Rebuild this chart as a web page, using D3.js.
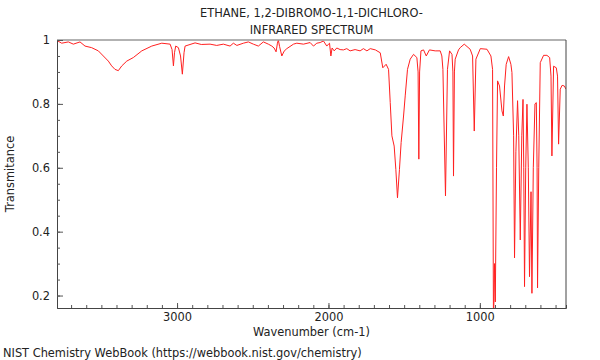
<!DOCTYPE html>
<html>
<head>
<meta charset="utf-8">
<script src="https://cdn.jsdelivr.net/npm/d3@7"></script>
<style>
  body { margin: 0; background: #fff; }
  svg text { font-family: "DejaVu Sans", sans-serif; fill: #222; }
</style>
</head>
<body>
<svg id="chart" width="600" height="360"></svg>
<script>
var titleLines = ["ETHANE, 1,2-DIBROMO-1,1-DICHLORO-", "INFRARED SPECTRUM"];
var xLabel = "Wavenumber (cm-1)",
    yLabel = "Transmitance",
    footer = "NIST Chemistry WebBook (https://webbook.nist.gov/chemistry)";

// spectrum (cm-1, transmittance)
var wavenumber = [
  3788, 3762, 3718, 3685, 3641, 3608, 3564, 3520, 3487, 3454, 3432, 3410, 3388, 3365, 3332, 3289,
  3233, 3167, 3101, 3046, 3033, 3024, 3017, 3009, 2991, 2977, 2965, 2954, 2947, 2881, 2840, 2782,
  2738, 2694, 2650, 2628, 2605, 2562, 2529, 2496, 2463, 2430, 2397, 2374, 2359, 2346, 2337, 2331,
  2323, 2308, 2293, 2275, 2231, 2209, 2165, 2121, 2099, 2077, 2055, 2033, 2011, 2000, 1993, 1984,
  1976, 1962, 1945, 1923, 1901, 1879, 1857, 1824, 1791, 1769, 1746, 1724, 1690, 1658, 1641, 1619,
  1603, 1592, 1581, 1566, 1555, 1544, 1531, 1520, 1504, 1493, 1478, 1460, 1438, 1416, 1408, 1403,
  1398, 1389, 1372, 1354, 1333, 1295, 1262, 1251, 1244, 1227, 1214, 1200, 1184, 1178, 1174, 1168,
  1163, 1141, 1130, 1103, 1064, 1048, 1037, 1026, 997, 953, 927, 916, 910, 903, 898, 890,
  883, 870, 854, 845, 837, 826, 810, 795, 788, 777, 771, 762, 751, 743, 733, 723,
  715, 710, 705, 697, 689, 680, 672, 662, 656, 647, 636, 627, 622, 619, 611, 601,
  579, 557, 539, 530, 524, 513, 495, 487, 480, 469, 457, 442, 431
];
var transmittance = [
  0.997, 0.990, 0.994, 0.987, 0.994, 0.981, 0.976, 0.966, 0.950, 0.934, 0.919, 0.908, 0.904, 0.919, 0.934, 0.945,
  0.966, 0.981, 0.990, 0.987, 0.970, 0.919, 0.960, 0.981, 0.976, 0.950, 0.893, 0.960, 0.981, 0.991, 0.986, 0.987,
  0.983, 0.987, 0.981, 0.990, 0.983, 0.990, 0.994, 0.987, 0.981, 0.994, 0.987, 0.981, 0.975, 0.963, 0.990, 1.000,
  0.980, 0.950, 0.965, 0.973, 0.987, 0.990, 0.987, 0.992, 0.981, 0.990, 0.992, 0.997, 0.981, 0.987, 0.990, 0.950,
  0.975, 0.966, 0.975, 0.970, 0.969, 0.973, 0.966, 0.970, 0.966, 0.973, 0.966, 0.973, 0.969, 0.960, 0.913, 0.924,
  0.908, 0.804, 0.700, 0.668, 0.595, 0.506, 0.595, 0.679, 0.762, 0.825, 0.908, 0.940, 0.955, 0.945, 0.900, 0.627,
  0.900, 0.966, 0.969, 0.950, 0.969, 0.966, 0.966, 0.950, 0.908, 0.512, 0.908, 0.966, 0.955, 0.900, 0.574, 0.900,
  0.940, 0.969, 0.976, 0.987, 0.971, 0.950, 0.715, 0.940, 0.973, 0.971, 0.950, 0.908, 0.100, 0.300, 0.180, 0.600,
  0.872, 0.856, 0.778, 0.762, 0.856, 0.924, 0.948, 0.924, 0.898, 0.700, 0.318, 0.650, 0.810, 0.700, 0.374, 0.700,
  0.814, 0.600, 0.228, 0.600, 0.799, 0.600, 0.259, 0.525, 0.207, 0.600, 0.800, 0.804, 0.600, 0.224, 0.600, 0.929,
  0.952, 0.952, 0.945, 0.887, 0.637, 0.918, 0.913, 0.887, 0.674, 0.846, 0.858, 0.856, 0.846
];

var xTickValues = [3000, 2000, 1000],
    yTickValues = [0.2, 0.4, 0.6, 0.8, 1];

(function() {
  var spectrum = wavenumber.map(function(w, i) { return {w: w, t: transmittance[i]}; });

  var svg = d3.select("#chart");
  var mLeft = 57, mRight = 566, mTop = 40, mBottom = 308;
  var fontSize = "11.4px";

  var x = d3.scaleLinear().domain([3793, 431]).range([mLeft, mRight]);
  var y = d3.scaleLinear().domain([0.161, 1.0]).range([mBottom, mTop]);

  // title
  svg.selectAll("text.title").data(titleLines).enter().append("text")
      .attr("class", "title")
      .attr("x", (mLeft + mRight) / 2)
      .attr("y", function(d, i) { return 17 + i * 17; })
      .attr("text-anchor", "middle")
      .style("font-size", fontSize)
      .text(function(d) { return d; });

  svg.append("clipPath").attr("id", "plot-clip")
    .append("rect")
      .attr("x", mLeft).attr("y", mTop)
      .attr("width", mRight - mLeft).attr("height", mBottom - mTop);

  // spectrum line
  var line = d3.line()
      .x(function(d) { return x(d.w); })
      .y(function(d) { return y(d.t); });

  svg.append("path")
      .datum(spectrum)
      .attr("clip-path", "url(#plot-clip)")
      .attr("fill", "none")
      .attr("stroke", "#ff2020")
      .attr("stroke-width", 1)
      .attr("stroke-linejoin", "round")
      .attr("d", line);

  // frame: top is light grey, the rest dark
  svg.append("line").attr("x1", mLeft).attr("x2", mRight).attr("y1", mTop).attr("y2", mTop)
      .attr("stroke", "#999").attr("stroke-width", 1.5);
  svg.append("line").attr("x1", mRight).attr("x2", mRight).attr("y1", mTop).attr("y2", mBottom)
      .attr("stroke", "#444");

  function styleTicks(g) {
    g.selectAll(".tick line").attr("stroke", "#555");
    g.selectAll(".tick text").style("font-size", fontSize).attr("fill", "#222")
        .attr("font-family", "DejaVu Sans");
  }

  // x axis, ticks point into the plot
  svg.append("g").attr("transform", "translate(0," + mBottom + ")")
      .call(d3.axisBottom(x).tickValues(d3.range(500, 3800, 100)).tickSize(-3).tickFormat(""))
      .call(function(g) { g.select(".domain").attr("stroke", "#444"); styleTicks(g); });
  svg.append("g").attr("transform", "translate(0," + mBottom + ")")
      .call(d3.axisBottom(x).tickValues(xTickValues).tickSize(-5).tickPadding(5).tickFormat(d3.format("d")))
      .call(function(g) { g.select(".domain").remove(); styleTicks(g); });

  // y axis
  svg.append("g").attr("transform", "translate(" + mLeft + ",0)")
      .call(d3.axisLeft(y).tickValues(d3.range(0.2, 1.001, 0.05)).tickSize(-3).tickFormat(""))
      .call(function(g) { g.select(".domain").attr("stroke", "#444"); styleTicks(g); });
  svg.append("g").attr("transform", "translate(" + mLeft + ",0)")
      .call(d3.axisLeft(y).tickValues(yTickValues).tickSize(-6).tickPadding(7).tickFormat(d3.format("~g")))
      .call(function(g) { g.select(".domain").remove(); styleTicks(g); });

  // axis labels
  svg.append("text")
      .attr("x", (mLeft + mRight) / 2).attr("y", 336)
      .attr("text-anchor", "middle")
      .style("font-size", fontSize)
      .text(xLabel);

  svg.append("text")
      .attr("transform", "translate(14," + (mTop + mBottom) / 2 + ") rotate(-90)")
      .attr("text-anchor", "middle")
      .style("font-size", fontSize)
      .text(yLabel);

  svg.append("text")
      .attr("x", 3).attr("y", 357)
      .style("font-size", fontSize)
      .text(footer);
})();
</script>
</body>
</html>
